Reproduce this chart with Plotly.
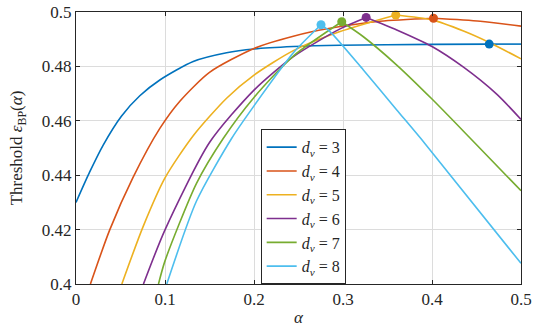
import plotly.graph_objects as go

# d_v values
dv_values = [3, 4, 5, 6, 7, 8]
colors = ["#0072BD", "#D95319", "#EDB120", "#7E2F8E", "#77AC30", "#4DBEEE"]

alpha_3 = [0, 0.0154, 0.0304, 0.051, 0.0717, 0.0942, 0.1317, 0.1692, 0.2, 0.2442, 0.2967, 0.4, 0.4643, 0.5]
eps_3 = [0.430, 0.4412, 0.4510, 0.4617, 0.4692, 0.4750, 0.4818, 0.4850, 0.4864, 0.4873, 0.4878, 0.4881, 0.4882, 0.4882]

alpha_4 = [0.0162, 0.0379, 0.0641, 0.0942, 0.1167, 0.15, 0.2, 0.2442, 0.2854, 0.3417, 0.4017, 0.4542, 0.5]
eps_4 = [0.4, 0.4199, 0.4392, 0.4572, 0.4672, 0.4778, 0.4866, 0.4911, 0.4940, 0.4966, 0.4977, 0.4966, 0.4948]

alpha_5 = [0.0515, 0.0754, 0.1, 0.1317, 0.1692, 0.2, 0.2442, 0.2967, 0.3593, 0.4, 0.4354, 0.4643, 0.5]
eps_5 = [0.4, 0.4211, 0.4390, 0.4545, 0.4683, 0.4768, 0.4858, 0.4928, 0.4989, 0.4971, 0.4930, 0.4888, 0.4828]

alpha_6 = [0.0758, 0.1, 0.15, 0.2, 0.2442, 0.2967, 0.326, 0.3604, 0.4, 0.4354, 0.473, 0.5]
eps_6 = [0.4, 0.4199, 0.4520, 0.4713, 0.4836, 0.4938, 0.4980, 0.4934, 0.4873, 0.4797, 0.4697, 0.4605]

alpha_7 = [0.0927, 0.1, 0.1354, 0.1654, 0.2, 0.2442, 0.2986, 0.3229, 0.3604, 0.4, 0.443, 0.5]
eps_7 = [0.4, 0.4085, 0.4370, 0.4535, 0.4686, 0.4838, 0.4964, 0.4909, 0.4805, 0.4680, 0.4536, 0.4343]

alpha_8 = [0.102, 0.1354, 0.1748, 0.2, 0.2442, 0.2753, 0.2854, 0.3229, 0.3604, 0.3924, 0.5]
eps_8 = [0.4, 0.4305, 0.4535, 0.4655, 0.4850, 0.4953, 0.4928, 0.4787, 0.4640, 0.4515, 0.4076]

# peak markers (alpha*, eps*)
peak_alpha = [0.4643, 0.4017, 0.3593, 0.326, 0.2986, 0.2753]
peak_eps = [0.4882, 0.4977, 0.4989, 0.4980, 0.4964, 0.4953]

x_ticks = [0, 0.1, 0.2, 0.3, 0.4, 0.5]
x_ticklabels = ["0", "0.1", "0.2", "0.3", "0.4", "0.5"]
y_ticks = [0.4, 0.42, 0.44, 0.46, 0.48, 0.5]
y_ticklabels = ["0.4", "0.42", "0.44", "0.46", "0.48", "0.5"]

alphas = [alpha_3, alpha_4, alpha_5, alpha_6, alpha_7, alpha_8]
epss = [eps_3, eps_4, eps_5, eps_6, eps_7, eps_8]

FONT = "Liberation Serif, Times New Roman, serif"
TXT = "#262626"

fig = go.Figure()
for dv, c, a, e, pa in zip(dv_values, colors, alphas, epss, peak_alpha):
    k = a.index(pa) if pa in a else len(a) - 1
    name = f"<i>d</i><sub><i>v</i></sub> = {dv}"
    # rising branch up to the peak, falling branch after it (sharp kink at peak)
    fig.add_trace(go.Scatter(
        x=a[:k + 1], y=e[:k + 1], mode="lines",
        line=dict(color=c, width=1.6, shape="spline", smoothing=0.7),
        name=name, legendgroup=str(dv),
    ))
    if k < len(a) - 1:
        fig.add_trace(go.Scatter(
            x=a[k:], y=e[k:], mode="lines",
            line=dict(color=c, width=1.6, shape="spline", smoothing=0.7),
            name=name, legendgroup=str(dv), showlegend=False,
        ))
for dv, c, pa, pe in zip(dv_values, colors, peak_alpha, peak_eps):
    fig.add_trace(go.Scatter(
        x=[pa], y=[pe], mode="markers", marker=dict(color=c, size=9),
        showlegend=False, cliponaxis=False, legendgroup=str(dv),
    ))

axis_common = dict(
    showgrid=True, gridcolor="#dcdcdc", gridwidth=1,
    showline=True, linecolor=TXT, linewidth=1, mirror="ticks",
    ticks="inside", ticklen=4, tickcolor=TXT,
    tickfont=dict(family=FONT, size=17, color=TXT),
    zeroline=False, automargin=False,
)

fig.update_layout(
    width=540, height=331,
    margin=dict(l=76, r=19, t=12, b=47),
    paper_bgcolor="white", plot_bgcolor="white",
    font=dict(family=FONT, size=17, color=TXT),
    xaxis=dict(range=[0, 0.5], tickvals=x_ticks, ticktext=x_ticklabels,
               title=dict(text="<i>α</i>", font=dict(family=FONT, size=17, color=TXT), standoff=2),
               **axis_common),
    yaxis=dict(range=[0.4, 0.5], tickvals=y_ticks, ticktext=y_ticklabels,
               title=dict(text="Threshold <i>ε</i><sub>BP</sub>(<i>α</i>)", font=dict(family=FONT, size=17, color=TXT), standoff=14),
               **axis_common),
    legend=dict(
        x=0.415, y=0.569, xanchor="left", yanchor="top",
        bordercolor=TXT, borderwidth=1, bgcolor="white",
        font=dict(family=FONT, size=16, color=TXT),
        itemwidth=30, tracegroupgap=0,
    ),
    showlegend=True,
)

fig.write_html("out.html")
